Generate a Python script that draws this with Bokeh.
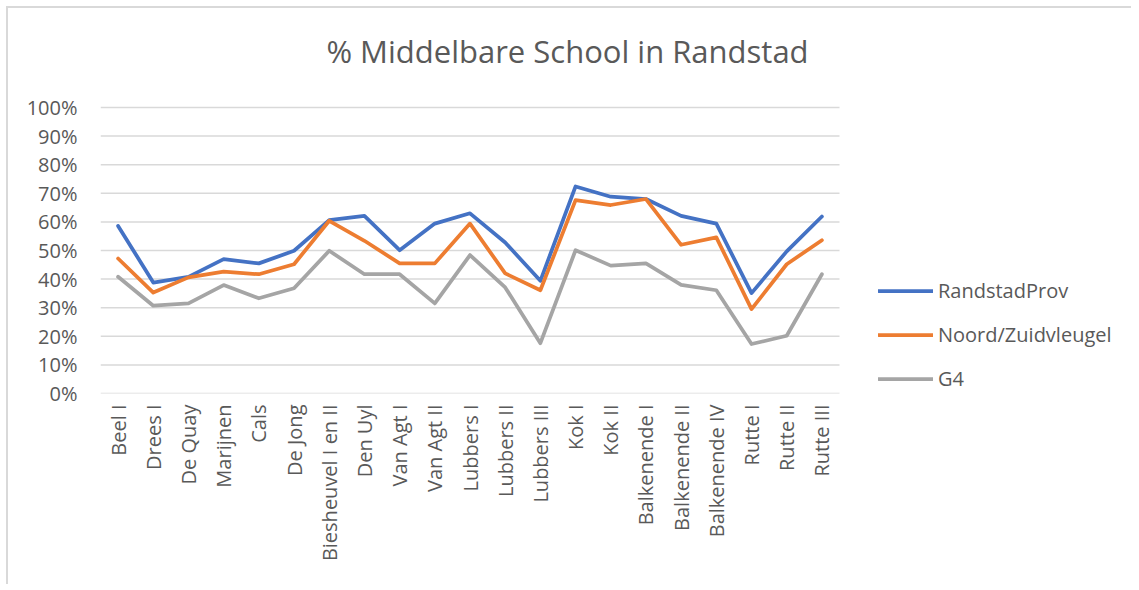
from bokeh.plotting import figure
from bokeh.models import (Range1d, FixedTicker, NumeralTickFormatter, Label,
                          Legend, LegendItem, ColumnDataSource)
from bokeh.embed import file_html
from bokeh.resources import INLINE
import math

categories = ["Beel I", "Drees I", "De Quay", "Marijnen", "Cals", "De Jong",
              "Biesheuvel I en II", "Den Uyl", "Van Agt I", "Van Agt II",
              "Lubbers I", "Lubbers II", "Lubbers III", "Kok I", "Kok II",
              "Balkenende I", "Balkenende II", "Balkenende IV",
              "Rutte I", "Rutte II", "Rutte III"]

randstad_prov = [0.586, 0.388, 0.408, 0.470, 0.455, 0.499, 0.606, 0.621, 0.501, 0.594,
                 0.630, 0.528, 0.394, 0.724, 0.688, 0.680, 0.621, 0.594, 0.351, 0.497, 0.619]
noord_zuid = [0.472, 0.353, 0.406, 0.426, 0.417, 0.452, 0.604, 0.534, 0.455, 0.455,
              0.594, 0.420, 0.361, 0.676, 0.659, 0.680, 0.520, 0.546, 0.295, 0.452, 0.536]
g4 = [0.408, 0.307, 0.315, 0.379, 0.333, 0.368, 0.499, 0.417, 0.417, 0.315,
      0.484, 0.371, 0.176, 0.501, 0.447, 0.455, 0.380, 0.361, 0.173, 0.202, 0.417]

series_names = ["RandstadProv", "Noord/Zuidvleugel", "G4"]
series_values = [randstad_prov, noord_zuid, g4]
series_colors = ["#4472C4", "#ED7D31", "#A5A5A5"]
y_ticks = [i / 10 for i in range(11)]
title_text = "% Middelbare School in Randstad"

TEXT = "#595959"
GRID = "#D9D9D9"

# layout (pixels)
W, H = 1125, 578
BL, BR, BT, BB = 92, 10, 10, 193
CHART_W = 739                     # width of the category area
CHART_TOP = 99                    # figure y of the 100% gridline
CHART_H = H - BB - CHART_TOP      # height of the 0..100% area
FRAME_W = W - BL - BR
n = len(categories)
x_pos = [i + 0.5 for i in range(n)]
x_end = n * FRAME_W / CHART_W
y_end = 1 + (CHART_TOP - BT) / CHART_H

p = figure(width=W, height=H, x_range=Range1d(0, x_end), y_range=Range1d(0, y_end),
           output_backend="svg", toolbar_location=None,
           min_border_left=BL, min_border_right=BR, min_border_top=BT,
           min_border_bottom=BB)
p.styles = {"border-left": "2px solid #D9D9D9", "border-top": "2px solid #D9D9D9",
            "margin-left": "6px", "margin-top": "6px"}
p.outline_line_color = None
p.background_fill_color = "white"
p.border_fill_color = "white"

p.xgrid.grid_line_color = None
p.ygrid.grid_line_color = None
# horizontal gridlines across the category area only
p.segment(x0=[0] * len(y_ticks), x1=[n] * len(y_ticks), y0=y_ticks, y1=y_ticks,
          line_color=GRID, line_width=1.5)

p.yaxis.ticker = FixedTicker(ticks=y_ticks)
p.yaxis.formatter = NumeralTickFormatter(format="0%")
p.xaxis.ticker = FixedTicker(ticks=x_pos)
p.xaxis.major_label_overrides = {x: c for x, c in zip(x_pos, categories)}

for ax in (p.xaxis[0], p.yaxis[0]):
    ax.axis_line_color = None
    ax.major_tick_line_color = None
    ax.minor_tick_line_color = None
    ax.major_tick_out = 0
    ax.major_tick_in = 0
    ax.major_label_text_color = TEXT
    ax.major_label_text_font = "Open Sans"
    ax.major_label_text_font_size = "20px"

p.yaxis.major_label_standoff = 23
p.xaxis.major_label_orientation = math.pi / 2
p.xaxis.major_label_standoff = 11

renderers = []
for name, vals, col in zip(series_names, series_values, series_colors):
    src = ColumnDataSource(dict(x=x_pos, y=vals))
    r = p.line("x", "y", source=src, line_color=col, line_width=3.75,
               line_join="round", line_cap="round")
    renderers.append((name, r))

legend = Legend(items=[LegendItem(label=nm, renderers=[r]) for nm, r in renderers],
                location=(778, 1), orientation="vertical",
                glyph_width=55, glyph_height=27, label_height=27, spacing=17,
                label_standoff=5, padding=0, margin=0,
                border_line_color=None, background_fill_alpha=0,
                label_text_font="Open Sans", label_text_font_size="20px",
                label_text_color=TEXT)
p.add_layout(legend, "center")

title = Label(x=467, y=CHART_H + 57, x_units="screen", y_units="screen",
              text=title_text, text_align="center", text_baseline="alphabetic",
              text_font="Open Sans", text_font_size="31px", text_color=TEXT)
p.add_layout(title)

open("out.html", "w").write(file_html(p, INLINE))
